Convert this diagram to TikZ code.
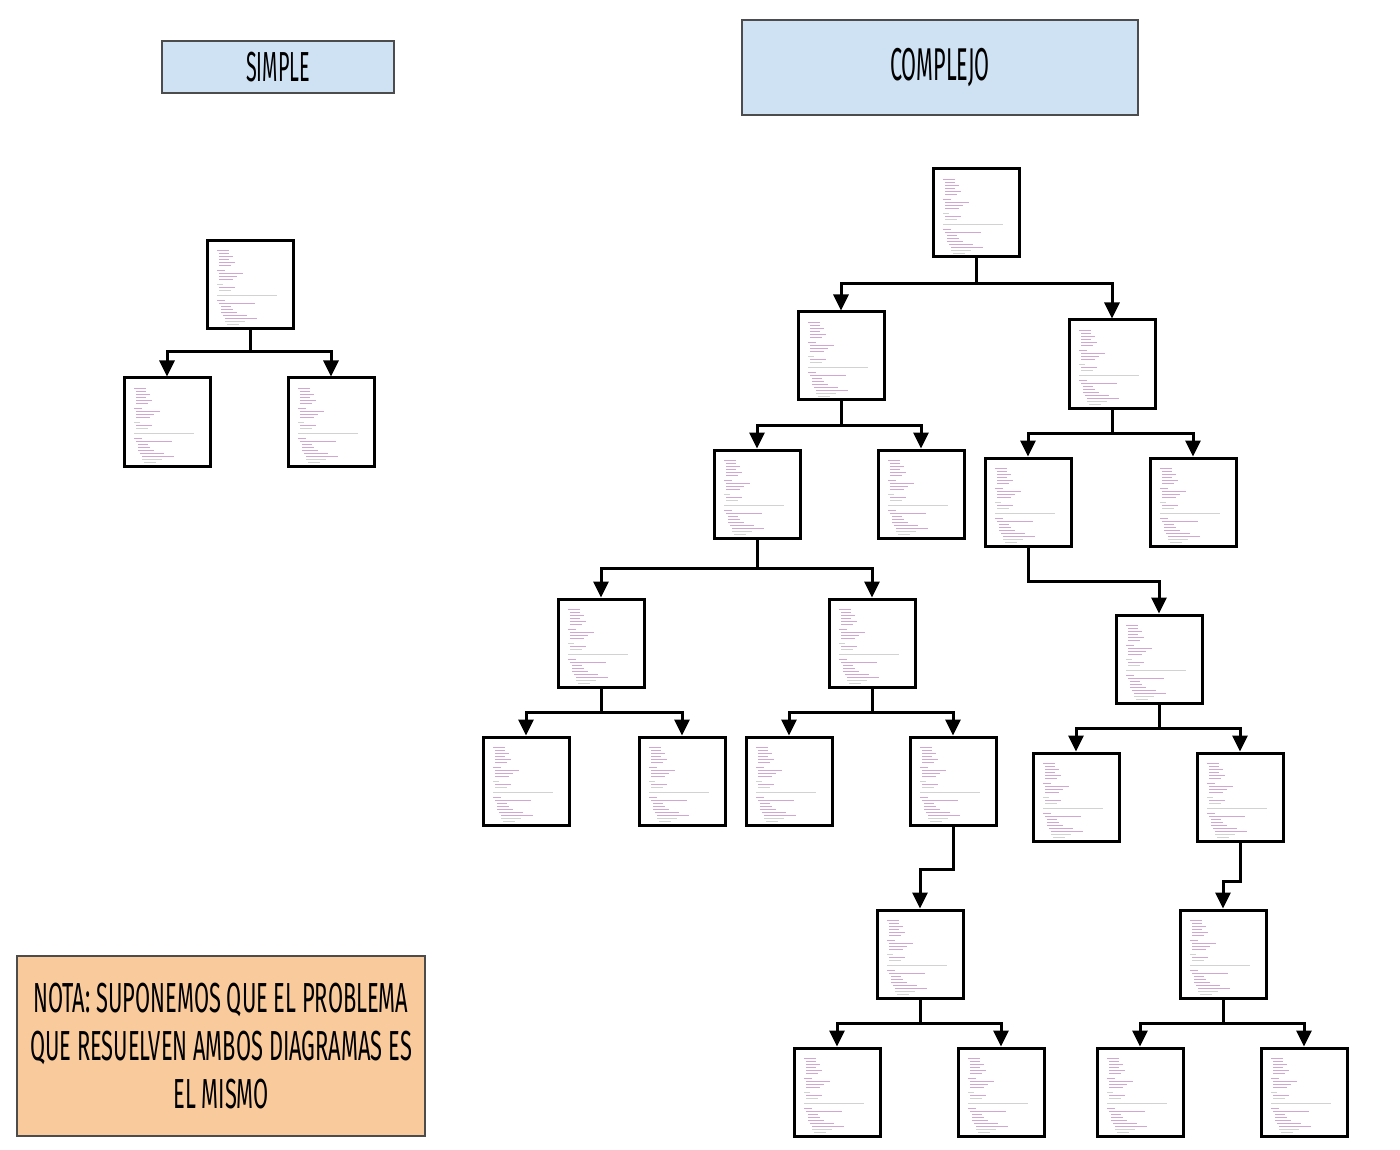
\documentclass[tikz,border=0pt]{standalone}
\usepackage{fontspec}
\newfontfamily\rotulo[FakeStretch=0.47]{Fira Sans}
\newfontfamily\rotulonota[FakeStretch=0.52]{Fira Sans}
\usetikzlibrary{arrows.meta}
\definecolor{azul}{HTML}{CFE2F3}
\definecolor{naranja}{HTML}{F9CB9C}

\tikzset{
	codigo/.style={draw, line width=1.5pt, fill=white, minimum width=43pt, minimum height=44pt, inner sep=0pt,
		path picture={
			\foreach \dx/\dy/\len/\col in {5/5/6/violet,6/6.5/5/violet,6/8/7/violet,6/9.5/5/violet,6/11/8/violet,6/12.5/6/violet,
				5/15/4/violet,6/16.5/12/violet,6/18/9/violet,6/19.5/7/violet,5/22/3/gray,6/23.5/8/violet,6/25/6/gray,
				5/27.5/30/gray,5/30/4/violet,6/31.5/18/violet,7/33/5/violet,7/34.5/6/violet,7/36/8/violet,
				8/37.5/12/violet,9/39/16/violet,9/40.5/10/gray,10/42/6/gray}
				\draw[\col!35, line width=0.35pt]
				([shift={(\dx pt,-\dy pt)}]path picture bounding box.north west) -- ++(\len pt,0);
		}},
	titulo/.style={draw=black!70, line width=0.6pt, fill=azul, inner sep=0pt, font=\rotulo},
	flecha/.style={line width=1.5pt, -{Triangle[length=8pt,width=7.5pt]}},
	linea/.style={line width=1.5pt}
}

\begin{document}
\begin{tikzpicture}[x=0.5pt, y=-0.5pt]
	\useasboundingbox (0,0) rectangle (1400,1149);
	\fill[white] (0,0) rectangle (1400,1149);

	% titulos
	\node[titulo, minimum width=116pt, minimum height=26pt, font=\rotulo\fontsize{21}{21}\selectfont] (simple) at (278,67) {SIMPLE};
	\node[titulo, minimum width=198pt, minimum height=47.5pt, font=\rotulo\fontsize{23}{23}\selectfont] (complejo) at (940,67.5) {COMPLEJO};

	% diagrama simple
	\node[codigo] (s0) at (250,284.5) {};
	\node[codigo] (s1) at (167,422) {};
	\node[codigo] (s2) at (331,422) {};
	\coordinate (ds) at (250,352);
	\draw[linea] (s0.south) -- (ds);
	\draw[flecha] (ds) -| (s1.north);
	\draw[flecha] (ds) -| (s2.north);

	% diagrama complejo
	\node[codigo] (a) at (976,213) {};
	\node[codigo] (b) at (841,356) {};
	\node[codigo] (c) at (1112,364) {};
	\node[codigo] (d) at (757,494) {};
	\node[codigo] (e) at (921,494) {};
	\node[codigo] (f) at (1028,502) {};
	\node[codigo] (g) at (1193,502) {};
	\node[codigo] (h) at (601,643) {};
	\node[codigo] (i) at (872,643) {};
	\node[codigo] (j) at (1159,659) {};
	\node[codigo] (k) at (526,781) {};
	\node[codigo] (l) at (682,781) {};
	\node[codigo] (m) at (789,781) {};
	\node[codigo] (n) at (953,781) {};
	\node[codigo] (o) at (1076,797) {};
	\node[codigo] (p) at (1240,797) {};
	\node[codigo] (q) at (920,954) {};
	\node[codigo] (r) at (1223,954) {};
	\node[codigo] (s) at (837,1092) {};
	\node[codigo] (t) at (1001,1092) {};
	\node[codigo] (u) at (1140,1092) {};
	\node[codigo] (v) at (1304,1092) {};

	% conexiones
	\coordinate (da) at (976,284);
	\draw[linea] (a.south) -- (da);
	\draw[flecha] (da) -| (b.north);
	\draw[flecha] (da) -| (c.north);
	\coordinate (db) at (841,425);
	\draw[linea] (b.south) -- (db);
	\draw[flecha] (db) -| (d.north);
	\draw[flecha] (db) -| (e.north);
	\coordinate (dc) at (1112,433);
	\draw[linea] (c.south) -- (dc);
	\draw[flecha] (dc) -| (f.north);
	\draw[flecha] (dc) -| (g.north);
	\coordinate (dd) at (757,568);
	\draw[linea] (d.south) -- (dd);
	\draw[flecha] (dd) -| (h.north);
	\draw[flecha] (dd) -| (i.north);
	\draw[flecha] (f.south) -- ++(0,34) -| (j.north);
	\coordinate (dh) at (601,712);
	\draw[linea] (h.south) -- (dh);
	\draw[flecha] (dh) -| (k.north);
	\draw[flecha] (dh) -| (l.north);
	\coordinate (di) at (872,712);
	\draw[linea] (i.south) -- (di);
	\draw[flecha] (di) -| (m.north);
	\draw[flecha] (di) -| (n.north);
	\coordinate (dj) at (1159,728);
	\draw[linea] (j.south) -- (dj);
	\draw[flecha] (dj) -| (o.north);
	\draw[flecha] (dj) -| (p.north);
	\draw[flecha] (n.south) -- ++(0,43) -| (q.north);
	\draw[flecha] (p.south) -- ++(0,39) -| (r.north);
	\coordinate (dq) at (920,1023);
	\draw[linea] (q.south) -- (dq);
	\draw[flecha] (dq) -| (s.north);
	\draw[flecha] (dq) -| (t.north);
	\coordinate (dr) at (1223,1023);
	\draw[linea] (r.south) -- (dr);
	\draw[flecha] (dr) -| (u.north);
	\draw[flecha] (dr) -| (v.north);

	% nota
	\node[draw=black!70, line width=0.6pt, fill=naranja, minimum width=204pt, minimum height=90pt, inner sep=1pt,
		align=center, font=\rotulonota\fontsize{21}{24}\selectfont] (nota) at (221,1046)
		{NOTA: SUPONEMOS QUE EL PROBLEMA\\QUE RESUELVEN AMBOS DIAGRAMAS ES\\EL MISMO};
\end{tikzpicture}
\end{document}
